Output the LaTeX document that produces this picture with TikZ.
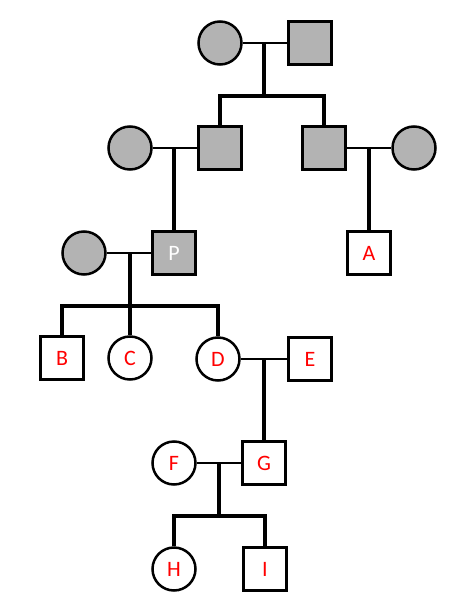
\documentclass[tikz,border=0pt]{standalone}
\usepackage{fontspec}
\setmainfont{Carlito}
\definecolor{affected}{RGB}{179,179,179}
\tikzset{
  person/.style={draw, line width=2.5pt, inner sep=0pt, minimum size=43pt,
    text=red, font=\fontsize{22}{24}\selectfont},
  male/.style={person, rectangle},
  female/.style={person, circle},
  ill/.style={fill=affected},
  marriage/.style={line width=2.3pt},
  descent/.style={line width=3.2pt}
}
\begin{document}
\begin{tikzpicture}[x=1pt, y=-1pt]
    \useasboundingbox (0,0) rectangle (465,612);

    % Generation I
    \node[female, ill] (gm) at (220,43) {};
    \node[male, ill] (gf) at (310,43) {};

    % Generation II
    \node[female, ill] (wa) at (130,148) {};
    \node[male, ill] (sa) at (220,148) {};
    \node[male, ill] (sb) at (324,148) {};
    \node[female, ill] (wb) at (414,148) {};

    % Generation III
    \node[female, ill] (wp) at (84,253) {};
    \node[male, ill, text=white] (p) at (174,253) {P};
    \node[male] (a) at (369,253) {A};

    % Generation IV
    \node[male] (b) at (62,358) {B};
    \node[female] (c) at (130,358) {C};
    \node[female] (d) at (218,359) {D};
    \node[male] (e) at (310,359) {E};

    % Generation V
    \node[female] (f) at (174,463) {F};
    \node[male] (g) at (264,463) {G};

    % Generation VI
    \node[female] (h) at (174,569) {H};
    \node[male] (i) at (265,569) {I};

    % Marriage lines
    \draw[marriage] (gm) -- (gf);
    \draw[marriage] (wa) -- (sa);
    \draw[marriage] (sb) -- (wb);
    \draw[marriage] (wp) -- (p);
    \draw[marriage] (d) -- (e);
    \draw[marriage] (f) -- (g);

    % Descent lines
    \coordinate (m1) at (264,43);
    \coordinate (s1) at (264,96);
    \draw[descent] (m1) -- (s1);
    \draw[descent] (sa.north) |- (s1) -| (sb.north);

    \coordinate (m2) at (174,148);
    \draw[descent] (m2) -- (p.north);
    \coordinate (m3) at (369,148);
    \draw[descent] (m3) -- (a.north);

    \coordinate (m4) at (130,253);
    \coordinate (s4) at (130,306);
    \draw[descent] (m4) -- (s4) -- (c.north);
    \draw[descent] (b.north) |- (s4) -| (d.north);

    \coordinate (m5) at (264,360);
    \draw[descent] (m5) -- (g.north);

    \coordinate (m6) at (219,463);
    \coordinate (s6) at (219,516);
    \draw[descent] (m6) -- (s6);
    \draw[descent] (h.north) |- (s6) -| (i.north);
\end{tikzpicture}
\end{document}
